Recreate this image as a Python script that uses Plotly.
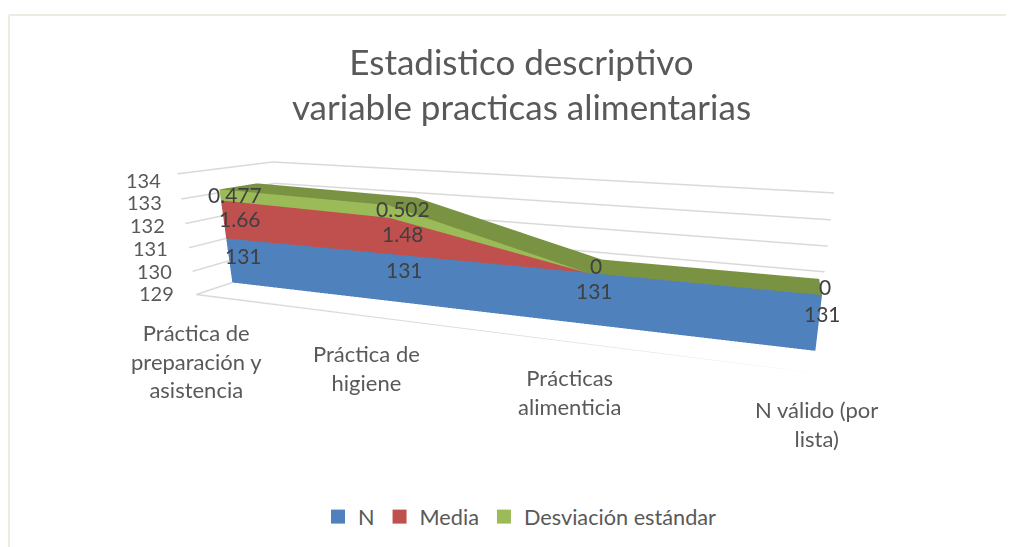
import plotly.graph_objects as go

title_lines = ["Estadistico descriptivo", "variable practicas alimentarias"]
categories = ["Práctica de<br>preparación y<br>asistencia", "Práctica de<br>higiene", "Prácticas<br>alimenticia", "N válido (por<br>lista)"]
series_names = ["N", "Media", "Desviación estándar"]
n_values = [131, 131, 131, 131]
media_values = [1.66, 1.48, 0, 0]
sd_values = [0.477, 0.502, 0, 0]
sd_labels = ["0.477", "0.502", "0", "0"]
z_ticks = [129, 130, 131, 132, 133, 134]
colors = ["#4F81BD", "#C0504D", "#9BBB59"]
top_color = "#7A9342"
TEXT = "#595959"
FONT = "Lato, Carlito, Calibri, sans-serif"
Z0 = 129
Y_FRONT, Y_BACK = 0.37, 0.78
W, H = 1006, 539
xs = list(range(len(categories)))

# label nudges in pixels (x, y-up)
tick_nudge = [(2, 1), (3, 0), (3, 0), (4, -2), (5, -3), (8, -6)]
n_nudge = [(16, -6), (12, -4), (8, -5), (2, -4)]
media_nudge = [(16, 1), (13, 2), (0, 0), (0, 0)]
sd_nudge = [(15, 0), (14, 3), (9, 7), (3, 8)]
cat_nudge = [(0, -1), (0, 0), (-1, 1), (-1, 0)]

lower1 = [Z0] * 4
upper1 = n_values
upper2 = [a + b for a, b in zip(upper1, media_values)]
upper3 = [a + b for a, b in zip(upper2, sd_values)]
bands = [(lower1, upper1), (upper1, upper2), (upper2, upper3)]


def px(x):
    return (x - 8) / W


def py(y):
    return 1 - (y - 8) / H


def strip_mesh(y, z, color):
    x = xs + xs
    n = len(xs)
    i, j, k = [], [], []
    for a in range(n - 1):
        i += [a, a + 1]
        j += [a + 1, a + 1 + n]
        k += [a + n, a + n]
    return go.Mesh3d(x=x, y=y, z=z, i=i, j=j, k=k, color=color, flatshading=True, showlegend=False,
                     hoverinfo="skip", showscale=False,
                     lighting=dict(ambient=1, diffuse=0, specular=0, roughness=1, fresnel=0))


fig = go.Figure()
for (lo, hi), c in zip(bands, colors):
    fig.add_trace(strip_mesh([Y_FRONT] * 8, list(lo) + list(hi), c))
fig.add_trace(strip_mesh([Y_FRONT] * 4 + [Y_BACK] * 4, list(upper3) + list(upper3), top_color))

# floor front edge
fig.add_trace(go.Scatter3d(x=[0, 3.03], y=[0, 0], z=[Z0, Z0], mode="lines",
                           line=dict(color="#D9D9D9", width=3), showlegend=False, hoverinfo="skip"))
# legend proxies
for name, c in zip(series_names, colors):
    fig.add_trace(go.Scatter3d(x=[None], y=[None], z=[None], mode="markers", name=name,
                               marker=dict(color=c, size=14, symbol="square"), hoverinfo="skip"))

ann = []
for t, (dx, dy) in zip(z_ticks, tick_nudge):
    ann.append(dict(x=0, y=0, z=t, text=str(t), showarrow=False, xanchor="right", yanchor="middle",
                    xshift=-22 + dx, yshift=dy, font=dict(size=20, color=TEXT, family=FONT)))
for i, c in enumerate(categories):
    ann.append(dict(x=i, y=0, z=Z0, text=c, showarrow=False, xanchor="center", yanchor="top",
                    xshift=cat_nudge[i][0], yshift=-22 + cat_nudge[i][1], font=dict(size=22, color=TEXT, family=FONT)))
for i in xs:
    items = [((lower1[i] + upper1[i]) / 2 + 0.5, str(n_values[i]), n_nudge[i]),
             ((upper1[i] + upper2[i]) / 2, str(media_values[i]) if media_values[i] else None, media_nudge[i]),
             ((upper2[i] + upper3[i]) / 2, sd_labels[i], sd_nudge[i])]
    for m, l, (dx, dy) in items:
        if l is None:
            continue
        ann.append(dict(x=i, y=Y_FRONT, z=m, text=l, showarrow=False, xanchor="center", yanchor="middle",
                        xshift=dx, yshift=dy, font=dict(size=21, color="#404040", family=FONT)))

axis_off = dict(showbackground=False, showticklabels=False, showspikes=False, title="", zeroline=False, showline=False, ticks="")
fig.update_layout(
    width=W, height=H,
    margin=dict(l=0, r=0, t=0, b=0),
    paper_bgcolor="white",
    font=dict(family=FONT, color=TEXT),
    title=dict(text="<br>".join(title_lines), x=px(521.5), xanchor="center", y=py(74.5), yanchor="middle",
               font=dict(size=35, color=TEXT, family=FONT)),
    legend=dict(orientation="h", x=px(520), xanchor="center", y=py(517), yanchor="middle",
                font=dict(size=21.7, color=TEXT, family=FONT), itemclick=False),
    shapes=[
        dict(type="line", xref="paper", yref="paper", x0=px(9), x1=1, y0=py(15), y1=py(15), line=dict(color="#EEECE1", width=2)),
        dict(type="line", xref="paper", yref="paper", x0=px(9), x1=px(9), y0=0, y1=py(15), line=dict(color="#EEECE1", width=2)),
    ],
    scene=dict(
        domain=dict(x=[0.163, 1], y=[0.012, 1]),
        aspectmode="manual", aspectratio=dict(x=1.487, y=0.3045, z=0.2994),
        camera=dict(eye=dict(x=0.625, y=-1.3488, z=0.3483), center=dict(x=0.2269, y=0.0474, z=-0.0579),
                    up=dict(x=-0.0919, y=0.254, z=0.9627), projection=dict(type="perspective")),
        xaxis=dict(range=[0, 3.03], showgrid=False, **axis_off),
        yaxis=dict(range=[0, 1], showgrid=False, **axis_off),
        zaxis=dict(range=[129, 134], tickvals=z_ticks, showgrid=True, gridcolor="#D9D9D9", gridwidth=3, **axis_off),
        annotations=ann,
    ),
)
fig.write_html("out.html")
